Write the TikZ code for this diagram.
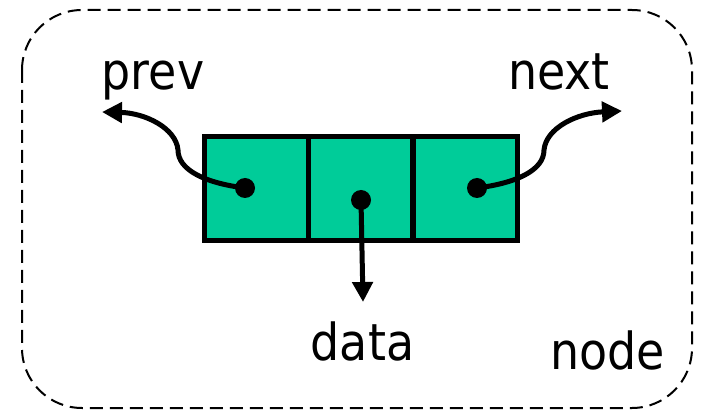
\documentclass[tikz,border=0pt]{standalone}
\usepackage{fontspec}
\setmainfont{DejaVu Sans Condensed}
\usetikzlibrary{arrows.meta}
\definecolor{cellgreen}{RGB}{0,204,153}
\begin{document}
\begin{tikzpicture}[x=1pt,y=-1pt,
  cell/.style={draw=black,fill=cellgreen,line width=5pt,minimum width=104pt,minimum height=104pt,inner sep=0pt},
  dot/.style={circle,fill=black,minimum size=20pt,inner sep=0pt},
  arr/.style={line width=5pt,-{Triangle[length=20pt,width=20pt]}},
  lbl/.style={font=\fontsize{51}{51}\selectfont,anchor=base,inner sep=0pt},
  frame/.style={draw=black,line width=2pt,dash pattern=on 13pt off 7pt,rounded corners=60pt}]
\useasboundingbox (0,0) rectangle (701,411);
\draw[frame] (22,10) rectangle (692,408);
\node[cell] (c1) at (256,189) {};
\node[cell] (c2) at (360.5,189) {};
\node[cell] (c3) at (465,189) {};
\node[dot] (d1) at (245,188) {};
\node[dot] (d2) at (361,200) {};
\node[dot] (d3) at (477,188) {};
\node[lbl] (prev) at (153,90) {prev};
\node[lbl] (next) at (559,90) {next};
\node[lbl] (data) at (362.5,360) {data};
\node[lbl] (nodelbl) at (608,370) {node};
\coordinate (pe) at (102,112);
\coordinate (ne) at (622,111);
\coordinate (de) at (363,302);
\draw[arr] (d1.center) .. controls (205,183) and (178,170) .. (178,150) .. controls (176,128) and (145,113) .. (pe);
\draw[arr] (d3.center) .. controls (517,183) and (544,170) .. (544,150) .. controls (546,128) and (577,113) .. (ne);
\draw[arr] (d2.center) -- (de);
\end{tikzpicture}
\end{document}
